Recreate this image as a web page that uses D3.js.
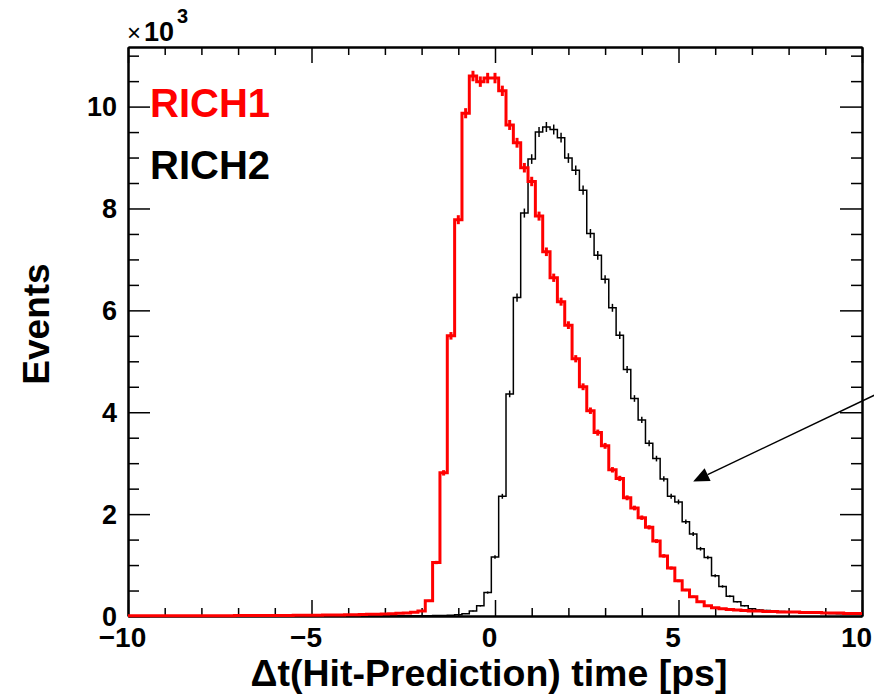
<!DOCTYPE html>
<html>
<head>
<meta charset="utf-8">
<script src="https://cdn.jsdelivr.net/npm/d3@7/dist/d3.min.js"></script>
<style>
  html, body { margin: 0; padding: 0; background: #fff; }
  svg { display: block; font-family: "Liberation Sans", Arial, Helvetica, sans-serif; font-weight: bold; }
</style>
</head>
<body>
<svg id="chart" width="874" height="696"></svg>
<script>
/* ── Data (bin contents in units of 10^3 events) ───────────── */
// 101 bins of width 0.2 ps, first bin centred at -10 ps
const binStart = -10.1;
const binWidth = 0.2;

const rich1 = [
  0.004, 0.004, 0.005, 0.004, 0.005, 0.005, 0.005, 0.006, 0.005, 0.006,   // -10.0 .. -8.2
  0.006, 0.006, 0.007, 0.007, 0.007, 0.008, 0.008, 0.009, 0.009, 0.010,   // -8.0 .. -6.2
  0.010, 0.011, 0.012, 0.013, 0.014, 0.015, 0.017, 0.018, 0.020, 0.022,   // -6.0 .. -4.2
  0.024, 0.026, 0.029, 0.032, 0.036, 0.040, 0.045, 0.052, 0.060, 0.072,   // -4.0 .. -2.2
  0.10, 0.30, 1.05, 2.81, 5.50, 7.78, 9.87, 10.60, 10.49, 10.56,          // -2.0 .. -0.2
  10.56, 10.31, 9.64, 9.29, 8.80, 8.53, 7.85, 7.15, 6.64, 6.17,           //  0.0 ..  1.8
  5.71, 5.05, 4.50, 4.03, 3.60, 3.34, 2.87, 2.70, 2.32, 2.12,             //  2.0 ..  3.8
  1.93, 1.74, 1.47, 1.18, 0.94, 0.69, 0.51, 0.38, 0.28, 0.20,             //  4.0 ..  5.8
  0.16, 0.14, 0.13, 0.12, 0.11, 0.10, 0.10, 0.09, 0.09, 0.08,             //  6.0 ..  7.8
  0.08, 0.08, 0.07, 0.07, 0.07, 0.06, 0.06, 0.06, 0.05, 0.05,             //  8.0 ..  9.8
  0.05                                                                    // 10.0
];

const rich2 = [
  0.002, 0.002, 0.002, 0.002, 0.002, 0.002, 0.002, 0.002, 0.002, 0.002,   // -10.0 .. -8.2
  0.002, 0.002, 0.002, 0.002, 0.002, 0.002, 0.002, 0.002, 0.002, 0.002,   // -8.0 .. -6.2
  0.002, 0.002, 0.002, 0.002, 0.002, 0.003, 0.003, 0.003, 0.003, 0.003,   // -6.0 .. -4.2
  0.003, 0.003, 0.003, 0.003, 0.003, 0.004, 0.004, 0.004, 0.004, 0.005,   // -4.0 .. -2.2
  0.005, 0.006, 0.008, 0.010, 0.015, 0.025, 0.045, 0.10, 0.20, 0.46,      // -2.0 .. -0.2
  1.16, 2.35, 4.36, 6.25, 7.91, 8.97, 9.50, 9.60, 9.55, 9.39,             //  0.0 ..  1.8
  8.99, 8.75, 8.36, 7.51, 7.08, 6.61, 6.05, 5.51, 4.84, 4.27,             //  2.0 ..  3.8
  3.85, 3.39, 3.09, 2.69, 2.35, 2.24, 1.85, 1.61, 1.32, 1.15,             //  4.0 ..  5.8
  0.79, 0.58, 0.39, 0.28, 0.20, 0.14, 0.12, 0.11, 0.10, 0.09,             //  6.0 ..  7.8
  0.08, 0.075, 0.07, 0.065, 0.06, 0.055, 0.05, 0.045, 0.04, 0.04,         //  8.0 ..  9.8
  0.035                                                                   // 10.0
];

const xMajorTicks = [-10, -5, 0, 5, 10];
const yMajorTicks = [0, 2, 4, 6, 8, 10];
const legendLabels = ['RICH1', 'RICH2'];
const seriesColors = ['#ff0000', '#000000'];

const xTitle = '\u0394t(Hit-Prediction) time [ps]';
const yTitle = 'Events';

// annotation arrow, in data units (tail -> tip)
const arrowTail = [10.35, 4.34];
const arrowTip = [5.4, 2.64];

/* ── Layout ────────────────────────────────────────────────── */
const frame = { left: 128, right: 862, top: 47, bottom: 616 };

const svg = d3.select('#chart');

const x = d3.scaleLinear().domain([-10, 10]).range([frame.left, frame.right]);
const y = d3.scaleLinear().domain([0, 11.17]).range([frame.bottom, frame.top]);

svg.append('clipPath').attr('id', 'frameClip')
  .append('rect')
  .attr('x', frame.left).attr('y', frame.top - 2)
  .attr('width', frame.right - frame.left)
  .attr('height', frame.bottom - frame.top + 4);

/* ── Axes (ticks point inwards, ROOT style) ────────────────── */
const fmt = d => (d < 0 ? '\u2212' + Math.abs(d) : String(d));
const xMinor = d3.range(-10, 10.001, 1).filter(d => !xMajorTicks.includes(d));
const yMinor = d3.range(0, 11.01, 0.5).filter(d => !yMajorTicks.includes(d));

function styleAxis(g) {
  g.selectAll('.domain').attr('stroke', '#000').attr('stroke-width', 2);
  g.selectAll('.tick line').attr('stroke', '#000').attr('stroke-width', 1.5);
}

// bottom
svg.append('g').attr('transform', `translate(0,${frame.bottom})`)
  .call(d3.axisBottom(x).tickValues(xMinor).tickSize(-8).tickSizeOuter(0).tickFormat(''))
  .call(styleAxis);
const xAxisG = svg.append('g').attr('transform', `translate(0,${frame.bottom})`)
  .call(d3.axisBottom(x).tickValues(xMajorTicks).tickSize(-16).tickSizeOuter(0)
    .tickPadding(11).tickFormat(fmt))
  .call(styleAxis);
xAxisG.selectAll('.tick text')
  .attr('font-size', 28).attr('font-family', null).attr('fill', '#000')
  .attr('dx', -6);

// top
svg.append('g').attr('transform', `translate(0,${frame.top})`)
  .call(d3.axisTop(x).tickValues(xMinor).tickSize(-8).tickSizeOuter(0).tickFormat(''))
  .call(styleAxis);
svg.append('g').attr('transform', `translate(0,${frame.top})`)
  .call(d3.axisTop(x).tickValues(xMajorTicks).tickSize(-16).tickSizeOuter(0).tickFormat(''))
  .call(styleAxis);

// left
svg.append('g').attr('transform', `translate(${frame.left},0)`)
  .call(d3.axisLeft(y).tickValues(yMinor).tickSize(-11).tickSizeOuter(0).tickFormat(''))
  .call(styleAxis);
const yAxisG = svg.append('g').attr('transform', `translate(${frame.left},0)`)
  .call(d3.axisLeft(y).tickValues(yMajorTicks).tickSize(-22).tickSizeOuter(0)
    .tickPadding(11).tickFormat(fmt))
  .call(styleAxis);
yAxisG.selectAll('.tick text')
  .attr('font-size', 27).attr('font-family', null).attr('fill', '#000')
  .attr('dy', '0.34em');

// right
svg.append('g').attr('transform', `translate(${frame.right},0)`)
  .call(d3.axisRight(y).tickValues(yMinor).tickSize(-11).tickSizeOuter(0).tickFormat(''))
  .call(styleAxis);
svg.append('g').attr('transform', `translate(${frame.right},0)`)
  .call(d3.axisRight(y).tickValues(yMajorTicks).tickSize(-22).tickSizeOuter(0).tickFormat(''))
  .call(styleAxis);

/* ── Histograms ────────────────────────────────────────────── */
function stepPath(values) {
  let d = '';
  values.forEach((v, i) => {
    const x0 = x(binStart + i * binWidth);
    const x1 = x(binStart + (i + 1) * binWidth);
    d += (i === 0 ? `M${x0},${y(v)}` : `V${y(v)}`) + `H${x1}`;
  });
  return d;
}

const histG = svg.append('g').attr('clip-path', 'url(#frameClip)');
const series = [
  { values: rich2, color: seriesColors[1], width: 1.5 },
  { values: rich1, color: seriesColors[0], width: 3 }
];

series.forEach(s => {
  histG.append('path')
    .attr('d', stepPath(s.values))
    .attr('fill', 'none')
    .attr('stroke', s.color)
    .attr('stroke-width', s.width);

  // statistical error bars at bin centres
  histG.selectAll(null)
    .data(s.values)
    .join('line')
    .attr('x1', (v, i) => x(binStart + (i + 0.5) * binWidth))
    .attr('x2', (v, i) => x(binStart + (i + 0.5) * binWidth))
    .attr('y1', v => y(v + Math.sqrt(v * 1000) / 1000))
    .attr('y2', v => y(Math.max(0, v - Math.sqrt(v * 1000) / 1000)))
    .attr('stroke', s.color)
    .attr('stroke-width', s.width);
});

/* ── Exponent label ────────────────────────────────────────── */
const expo = svg.append('text').attr('x', frame.left - 1).attr('y', 41);
expo.append('tspan').attr('font-weight', 'normal').attr('font-size', 24).text('\u00d7');
expo.append('tspan').attr('font-size', 27).attr('dx', 3).text('10');
expo.append('tspan').attr('font-size', 20).attr('dx', 3).attr('dy', -18).text('3');

/* ── Legend ────────────────────────────────────────────────── */
legendLabels.forEach((label, i) => {
  svg.append('text')
    .attr('x', 150).attr('y', 117 + i * 62)
    .attr('font-size', 40)
    .attr('fill', seriesColors[i])
    .text(label);
});

/* ── Axis titles ───────────────────────────────────────────── */
svg.append('text')
  .attr('x', x(0) - 6).attr('y', 686)
  .attr('text-anchor', 'middle')
  .attr('font-size', 37.5)
  .text(xTitle);

svg.append('text')
  .attr('transform', `translate(49,${324}) rotate(-90)`)
  .attr('text-anchor', 'middle')
  .attr('font-size', 37)
  .text(yTitle);

/* ── Arrow annotation ──────────────────────────────────────── */
const [tx, ty] = [x(arrowTip[0]), y(arrowTip[1])];
const [sx, sy] = [x(arrowTail[0]), y(arrowTail[1])];
const len = Math.hypot(sx - tx, sy - ty);
const ux = (sx - tx) / len, uy = (sy - ty) / len;
const headLen = 16, headHalf = 7;
const bx = tx + ux * headLen, by = ty + uy * headLen;

svg.append('line')
  .attr('x1', sx).attr('y1', sy).attr('x2', bx).attr('y2', by)
  .attr('stroke', '#000').attr('stroke-width', 1.5);
svg.append('path')
  .attr('d', `M${tx},${ty}L${bx - uy * headHalf},${by + ux * headHalf}L${bx + uy * headHalf},${by - ux * headHalf}Z`)
  .attr('fill', '#000');
</script>
</body>
</html>
